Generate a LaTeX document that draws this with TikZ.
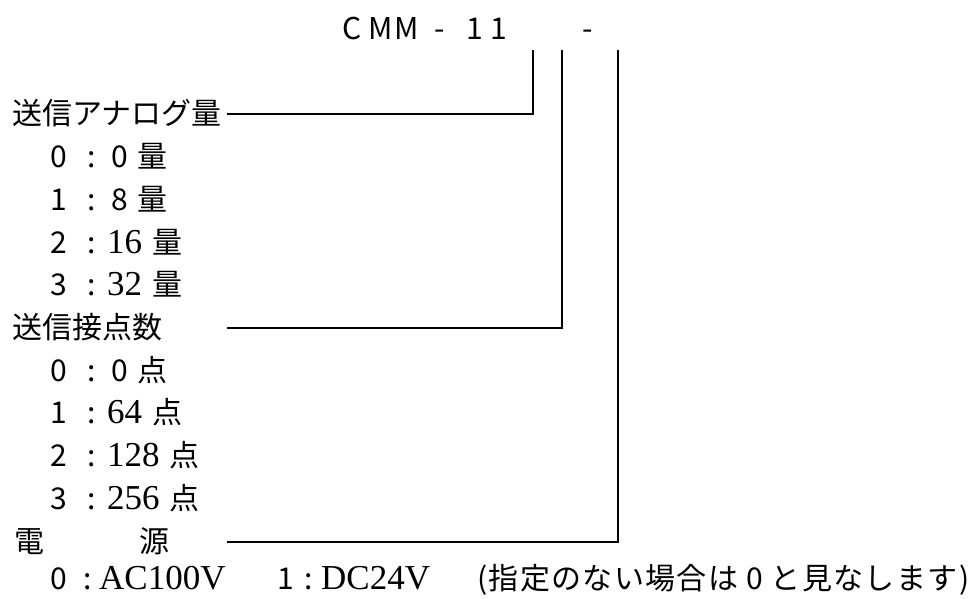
\documentclass[tikz,border=0pt]{standalone}
\usepackage{fontspec}
\setmainfont{Noto Sans CJK JP}
\newfontfamily\jpsans{Noto Sans CJK JP}
\newfontfamily\numserif{Liberation Serif}
\newcommand{\jsz}{\fontsize{30}{32}\selectfont}
\newcommand{\nsz}{\numserif\fontsize{35}{36}\selectfont}

\begin{document}
\begin{tikzpicture}[x=1pt,y=-1pt,
  every node/.style={inner sep=0pt,font=\jpsans\jsz},
  lead/.style={line width=1.6pt},
  ]
\useasboundingbox (0,0) rectangle (969,599);

% model code
\foreach \c/\x [count=\n] in {C/352.5,M/381,M/406.5,-/439.5,1/475,1/499,-/587.5}
  \node[anchor=base] (code\n) at (\x,40) {\c};

% headings
\node[anchor=base west] (ana) at (12,125) {送信アナログ量};
\node[anchor=base west] (pts) at (12,338.5) {送信接点数};
\node[anchor=base west] (den) at (14,552) {電};
\node[anchor=base west] (gen) at (139,552) {源};

% analog choices
\foreach \k/\v/\x/\y [count=\n] in {0/{0\hspace{10pt}量}/111/167.7,
    1/{8\hspace{10pt}量}/111/210.4,
    2/{{\nsz 16}\hspace{10pt}量}/107/253.1,
    3/{{\nsz 32}\hspace{10pt}量}/107/295.8} {
  \node[anchor=base] (ak\n) at (59,\y) {\k};
  \node[anchor=base] (ac\n) at (91.5,\y) {:};
  \node[anchor=base west] (av\n) at (\x,\y) {\v};
}

% contact choices
\foreach \k/\v/\x/\y [count=\n] in {0/{0\hspace{10pt}点}/111/381.2,
    1/{{\nsz 64}\hspace{10pt}点}/107/423.9,
    2/{{\nsz 128}\hspace{10pt}点}/107/466.6,
    3/{{\nsz 256}\hspace{10pt}点}/107/509.3} {
  \node[anchor=base] (pk\n) at (59,\y) {\k};
  \node[anchor=base] (pc\n) at (91.5,\y) {:};
  \node[anchor=base west] (pv\n) at (\x,\y) {\v};
}

% power choices
\node[anchor=base] (wk1) at (59,589) {0};
\node[anchor=base] (wc1) at (88,589) {:};
\node[anchor=base west] (wv1) at (99,589) {\nsz AC100V};
\node[anchor=base] (wk2) at (286,589) {1};
\node[anchor=base] (wc2) at (309,589) {:};
\node[anchor=base west] (wv2) at (321,589) {\nsz DC24V};
\node[anchor=base west] (note) at (477,589)
  {\addfontfeature{LetterSpace=4.5}(指定のない場合は 0 と見なします)};

% leader lines
\coordinate (ta) at (533,50);
\coordinate (tb) at (562,50);
\coordinate (tc) at (618,50);
\coordinate (sa) at (227,114);
\coordinate (sb) at (227,328);
\coordinate (sc) at (227,542);
\draw[lead] (sa) -| (ta);
\draw[lead] (sb) -| (tb);
\draw[lead] (sc) -| (tc);

\end{tikzpicture}
\end{document}
